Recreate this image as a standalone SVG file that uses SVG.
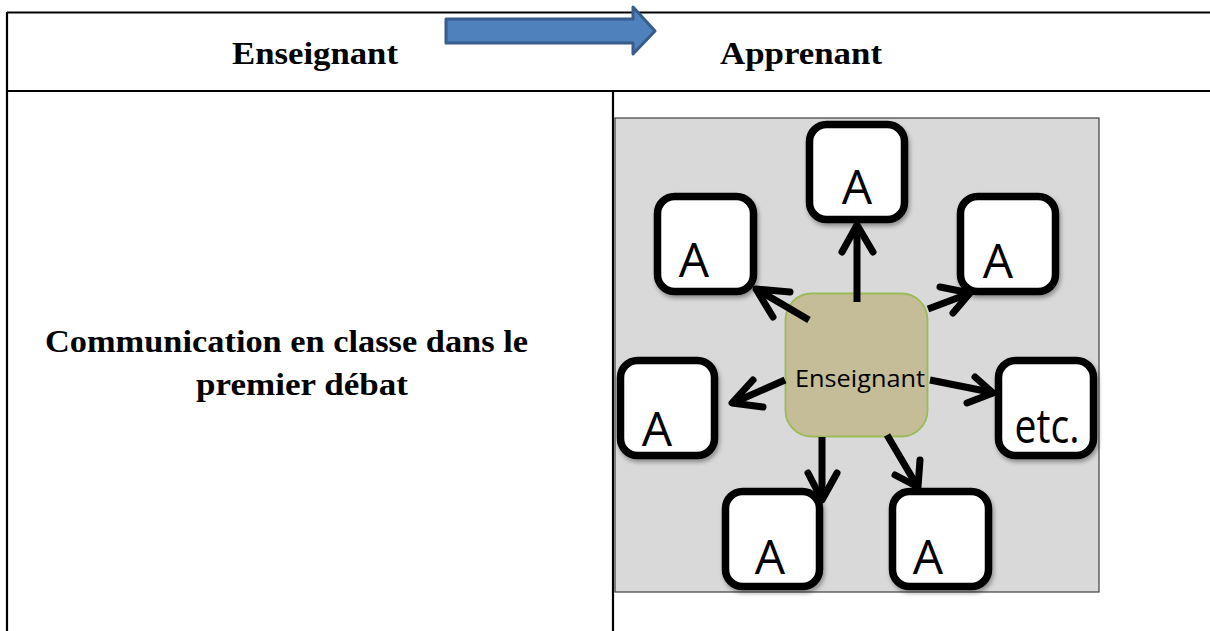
<svg xmlns="http://www.w3.org/2000/svg" width="1210" height="631" viewBox="0 0 1210 631">
<defs>
<filter id="sh" x="-20%" y="-20%" width="150%" height="150%">
<feDropShadow dx="1.5" dy="3" stdDeviation="2" flood-color="#000" flood-opacity="0.35"/>
</filter>
<style>
.tl{stroke:#000;stroke-width:2.2;fill:none}
.hd{font-family:"Liberation Serif","Times New Roman",serif;font-weight:bold;font-size:31px;fill:#000}
.box{fill:#fff;stroke:#000;stroke-width:7.5;filter:url(#sh)}
.lab{font-family:"Open Sans","Noto Sans",sans-serif;font-size:48px;fill:#000;text-anchor:middle}
.shaft{stroke:#000;stroke-width:7;fill:none;stroke-linecap:butt}
.wing{stroke:#000;stroke-width:7;fill:none;stroke-linecap:round;stroke-linejoin:round}
</style>
</defs>
<rect width="1210" height="631" fill="#fff"/>
<g id="table">
<line class="tl" x1="7" y1="12.5" x2="1210" y2="12.5"/>
<line class="tl" x1="7" y1="12" x2="7" y2="631"/>
<line class="tl" x1="7" y1="91" x2="1210" y2="91"/>
<line class="tl" x1="613" y1="91" x2="613" y2="631"/>
</g>
<g id="header-arrow">
<path d="M446,19 L633,19 L633,7 L655,31 L633,54 L633,43 L446,43 Z" fill="#4F81BD" stroke="#385D8A" stroke-width="3" stroke-linejoin="round"/>
</g>
<g id="header-texts">
<text class="hd" x="232" y="64" textLength="166" lengthAdjust="spacingAndGlyphs">Enseignant</text>
<text class="hd" x="720" y="64" textLength="162" lengthAdjust="spacingAndGlyphs">Apprenant</text>
</g>
<g id="row-label">
<text class="hd" x="45" y="352" textLength="483" lengthAdjust="spacingAndGlyphs">Communication en classe dans le</text>
<text class="hd" x="196" y="395" textLength="212" lengthAdjust="spacingAndGlyphs">premier débat</text>
</g>
<g id="panel">
<rect x="615" y="118" width="484" height="474" fill="#D9D9D9" stroke="#404040" stroke-width="1.2"/>
</g>
<g id="node-center">
<rect x="785.5" y="293.5" width="142" height="143" rx="26" fill="#C4BD97" stroke="#9BBB59" stroke-width="1.8"/>
<text x="860" y="387" font-family="'Open Sans','Noto Sans',sans-serif" font-size="24" text-anchor="middle" textLength="130" lengthAdjust="spacingAndGlyphs" fill="#000">Enseignant</text>
</g>
<g id="node-top">
<rect class="box" x="809.5" y="124.5" width="95" height="95" rx="17"/>
<text class="lab" x="857" y="204">A</text>
</g>
<g id="node-topleft">
<rect class="box" x="657.5" y="196.5" width="96" height="95" rx="17"/>
<text class="lab" x="694" y="277">A</text>
</g>
<g id="node-topright">
<rect class="box" x="960.5" y="196.5" width="95" height="95" rx="17"/>
<text class="lab" x="998" y="278">A</text>
</g>
<g id="node-left">
<rect class="box" x="620.5" y="360.5" width="94" height="95" rx="17"/>
<text class="lab" x="657" y="446">A</text>
</g>
<g id="node-etc">
<rect class="box" x="998.5" y="360.5" width="95" height="95" rx="17"/>
<text class="lab" x="1047" y="443" font-size="46" textLength="65" lengthAdjust="spacingAndGlyphs">etc.</text>
</g>
<g id="node-bottom1">
<rect class="box" x="725.5" y="491.5" width="94" height="95" rx="17"/>
<text class="lab" x="770" y="574">A</text>
</g>
<g id="node-bottom2">
<rect class="box" x="892.5" y="491.5" width="96" height="95" rx="17"/>
<text class="lab" x="928" y="574">A</text>
</g>
<g id="connectors">
<line class="shaft" x1="857" y1="302" x2="857" y2="226"/>
<polyline class="wing" points="842,252 857,225 873,252"/>
<line class="shaft" x1="809" y1="320" x2="758" y2="290"/>
<polyline class="wing" points="790,292 756,289 773,317"/>
<line class="shaft" x1="928" y1="309" x2="968" y2="294"/>
<polyline class="wing" points="940,287 970,293 953,313"/>
<line class="shaft" x1="785" y1="380" x2="735" y2="402"/>
<polyline class="wing" points="753,380 732,403 763,407"/>
<line class="shaft" x1="930" y1="380" x2="990" y2="392"/>
<polyline class="wing" points="975,377 993,393 967,403"/>
<line class="shaft" x1="822" y1="437" x2="822" y2="497"/>
<polyline class="wing" points="808,473 822,500 837,473"/>
<line class="shaft" x1="887" y1="435" x2="916" y2="484"/>
<polyline class="wing" points="895,475 918,487 920,460"/>
</g>
</svg>
